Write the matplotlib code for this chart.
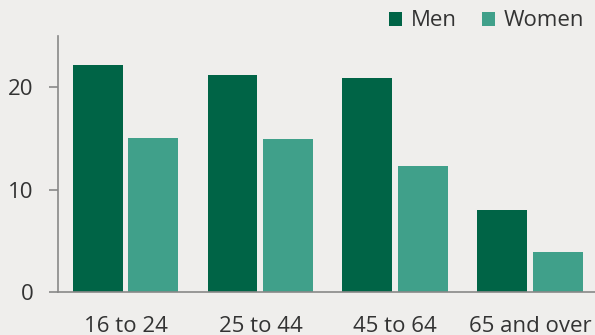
import numpy as np
import matplotlib
matplotlib.use('Agg')
import matplotlib.pyplot as plt

# dados
age_groups = ['16 to 24', '25 to 44', '45 to 64', '65 and over']
men = [22.2, 21.2, 20.9, 8.0]
women = [15.0, 14.9, 12.3, 3.9]

bg = '#efeeec'
c_men = '#006446'
c_women = '#40a08a'
txt = '#333333'

plt.rcParams['font.family'] = ['Open Sans', 'DejaVu Sans']

fig = plt.figure(figsize=(5.95, 3.35), dpi=100, facecolor=bg)
ax = fig.add_axes([0.0975, 0.128, 0.9025, 0.7645], facecolor=bg)

x = np.arange(len(age_groups))
w = 0.37
off = 0.207
ax.bar(x - off, men, w, color=c_men, label='Men')
ax.bar(x + off, women, w, color=c_women, label='Women')

ax.set_xlim(-0.5, 3.48)
ax.set_ylim(0, 25)
ax.set_yticks([0, 10, 20])
ax.set_xticks(x)
ax.set_xticklabels(age_groups)

for s in ['top', 'right']:
    ax.spines[s].set_visible(False)
for s in ['left', 'bottom']:
    ax.spines[s].set_color('#888888')
    ax.spines[s].set_linewidth(1.2)

ax.tick_params(axis='y', length=6.5, width=1.2, color='#888888', pad=11,
               labelsize=16, labelcolor=txt)
ax.tick_params(axis='x', length=0, pad=17, labelsize=16, labelcolor=txt)

leg = ax.legend(loc='upper right', bbox_to_anchor=(0.98, 1.10), ncol=2,
                frameon=False, fontsize=16, handlelength=0.6,
                handleheight=0.6, handletextpad=0.4, columnspacing=1.1,
                borderaxespad=0, borderpad=0)
for t in leg.get_texts():
    t.set_color(txt)

fig.savefig('out.png', dpi=100, facecolor=bg)
